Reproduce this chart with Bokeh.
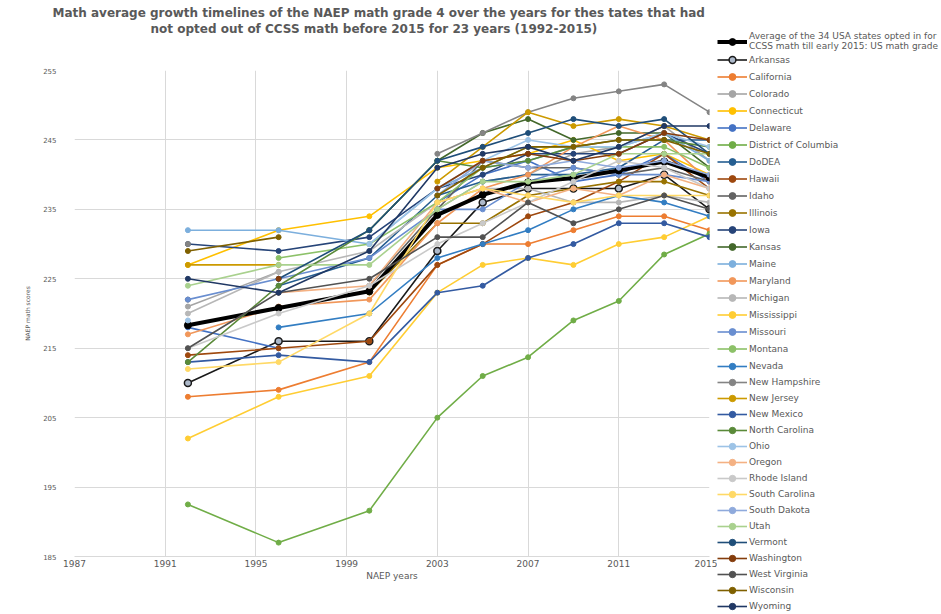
from bokeh.plotting import figure
from bokeh.layouts import row, column
from bokeh.models import Range1d, FixedTicker, Legend, LegendItem, Title
from bokeh.embed import file_html
from bokeh.resources import INLINE

nan = float("nan")

title_line1 = "Math average growth timelines of the NAEP math  grade 4 over the years for thes tates that had"
title_line2 = "not opted out of CCSS math before 2015 for 23 years (1992-2015)"
x_title = "NAEP years"
y_title = "NAEP math scores"

years = [1992, 1996, 2000, 2003, 2005, 2007, 2009, 2011, 2013, 2015]
x_ticks = [1987, 1991, 1995, 1999, 2003, 2007, 2011, 2015]
y_ticks = [185, 195, 205, 215, 225, 235, 245, 255]

average_label = "Average of the 34 USA states opted in for\nCCSS math till early 2015: US math grade"
average = [218.3, 220.8, 223.2, 234.2, 237.1, 238.9, 239.5, 240.6, 241.9, 239.6]

states = ["Arkansas", "California", "Colorado", "Connecticut", "Delaware",
          "District of Columbia", "DoDEA", "Hawaii", "Idaho", "Illinois", "Iowa",
          "Kansas", "Maine", "Maryland", "Michigan", "Mississippi", "Missouri",
          "Montana", "Nevada", "New Hampshire", "New Jersey", "New Mexico",
          "North Carolina", "Ohio", "Oregon", "Rhode Island", "South Carolina",
          "South Dakota", "Utah", "Vermont", "Washington", "West Virginia",
          "Wisconsin", "Wyoming"]

arkansas = [210, 216, 216, 229, 236, 238, 238, 238, 240, 235]
california = [208, 209, 213, 227, 230, 230, 232, 234, 234, 232]
colorado = [221, 226, nan, 235, 239, 240, 243, 244, 247, 242]
connecticut = [227, 232, 234, 241, 242, 243, 245, 242, 243, 240]
delaware = [218, 215, nan, 236, 240, 242, 239, 240, 243, 239]
district_of_columbia = [192.5, 187, 191.6, 205, 211, 213.7, 219, 221.8, 228.5, 231.5]
dodea = [nan, 224, 228, 237, 239, 240, 240, 241, 245, 245]
hawaii = [214, 215, 216, 227, 230, 234, 236, 239, 243, 238]
idaho = [222, nan, 224, 235, 242, 241, 241, 240, 241, 239]
illinois = [nan, nan, 223, 233, 233, 237, 238, 239, 239, 237]
iowa = [230, 229, 231, 238, 240, 243, 243, 243, 246, 243]
kansas = [nan, nan, 232, 242, 246, 248, 245, 246, 246, 241]
maine = [232, 232, 230, 238, 241, 242, 244, 244, 246, 242]
maryland = [217, 221, 222, 233, 238, 240, 244, 247, 245, 239]
michigan = [220, 226, 229, 236, 238, 238, 236, 236, 237, 236]
mississippi = [202, 208, 211, 223, 227, 228, 227, 230, 231, 234]
missouri = [222, 225, 228, 235, 235, 239, 241, 240, 240, 239]
montana = [nan, 228, 230, 236, 241, 244, 244, 244, 244, 241]
nevada = [nan, 218, 220, 228, 230, 232, 235, 237, 236, 234]
new_hampshire = [230, nan, nan, 243, 246, 249, 251, 252, 253, 249]
new_jersey = [227, 227, nan, 239, 244, 249, 247, 248, 247, 245]
new_mexico = [213, 214, 213, 223, 224, 228, 230, 233, 233, 231]
north_carolina = [213, 224, 232, 242, 241, 242, 244, 245, 245, 244]
ohio = [219, nan, 230, 238, 242, 245, 244, 244, 246, 244]
oregon = [nan, 223, 224, 236, 238, 236, 238, 237, 240, 238]
rhode_island = [215, 220, 224, 230, 233, 236, 239, 242, 241, 238]
south_carolina = [212, 213, 220, 236, 238, 237, 236, 237, 237, 237]
south_dakota = [nan, nan, nan, 237, 242, 241, 242, 241, 242, 240]
utah = [224, 227, 227, 235, 239, 239, 240, 243, 243, 243]
vermont = [nan, 225, 232, 242, 244, 246, 248, 247, 248, 243]
washington = [nan, 225, nan, 238, 242, 243, 242, 243, 246, 245]
west_virginia = [215, 223, 225, 231, 231, 236, 233, 235, 237, 235]
wisconsin = [229, 231, nan, 237, 241, 244, 244, 245, 245, 243]
wyoming = [225, 223, 229, 241, 243, 244, 242, 244, 247, 247]

state_values = [arkansas, california, colorado, connecticut, delaware,
                district_of_columbia, dodea, hawaii, idaho, illinois, iowa,
                kansas, maine, maryland, michigan, mississippi, missouri,
                montana, nevada, new_hampshire, new_jersey, new_mexico,
                north_carolina, ohio, oregon, rhode_island, south_carolina,
                south_dakota, utah, vermont, washington, west_virginia,
                wisconsin, wyoming]

state_colors = ["#1A1A1A", "#ED7D31", "#A5A5A5", "#FFC000", "#4472C4",
                "#70AD47", "#255E91", "#9E480E", "#636363", "#997300", "#264478",
                "#43682B", "#7CAFDD", "#F1975A", "#B7B7B7", "#FFCD33", "#698ED0",
                "#8CC168", "#327DC2", "#848484", "#CC9A00", "#335AA1",
                "#5A8A39", "#9DC3E6", "#F4B183", "#C9C9C9", "#FFD966",
                "#8FAADC", "#A9D18E", "#1F4E79", "#843C0C", "#525252",
                "#7F6000", "#203864"]

FONT = "DejaVu Sans"
GREY = "#595959"

# ---------------- main chart ----------------
p = figure(width=717, height=614, x_range=Range1d(1987, 2015), y_range=Range1d(185, 255),
           output_backend="svg", toolbar_location=None,
           min_border_left=74, min_border_right=8, min_border_top=70, min_border_bottom=58)
p.outline_line_color = None

# top panel: spacer nearest the plot, then title line 2, then the main title (line 1)
p.add_layout(Title(text=" ", standoff=0, text_font=FONT, text_font_size="28px",
                   text_color="white"), "above")
p.add_layout(Title(text=title_line2, align="left", offset=76, standoff=0,
                   text_font=FONT, text_font_size="12px", text_font_style="bold",
                   text_color=GREY), "above")
p.title.text = title_line1
p.title.align = "left"
p.title.offset = -22
p.title.standoff = 0
p.title.text_font = FONT
p.title.text_font_size = "12px"
p.title.text_font_style = "bold"
p.title.text_color = GREY

p.xaxis.ticker = FixedTicker(ticks=x_ticks)
p.yaxis.ticker = FixedTicker(ticks=y_ticks)
p.xaxis.axis_label = x_title
p.yaxis.axis_label = y_title
for ax in (p.xaxis, p.yaxis):
    ax.major_tick_line_color = None
    ax.minor_tick_line_color = None
    ax.major_tick_out = 0
    ax.major_tick_in = 0
    ax.minor_tick_out = 0
    ax.minor_tick_in = 0
    ax.major_label_text_color = GREY
    ax.major_label_text_font = FONT
    ax.axis_label_text_color = GREY
    ax.axis_label_text_font = FONT
    ax.axis_label_text_font_style = "normal"
p.xaxis.axis_line_color = "#D9D9D9"
p.yaxis.axis_line_color = None
p.xaxis.major_label_text_font_size = "9px"
p.xaxis.major_label_standoff = 3
p.xaxis.axis_label_text_font_size = "9px"
p.xaxis.axis_label_standoff = 1
p.yaxis.major_label_text_font_size = "7px"
p.yaxis.major_label_standoff = 18
p.yaxis.axis_label_text_font_size = "6px"
p.yaxis.axis_label_standoff = 9
p.grid.grid_line_color = "#D9D9D9"
p.grid.grid_line_width = 1

# ---------------- legend panel ----------------
pl = figure(width=224, height=614, x_range=Range1d(0, 1), y_range=Range1d(0, 1),
            x_axis_type=None, y_axis_type=None, output_backend="svg",
            toolbar_location=None, min_border_left=0, min_border_right=0,
            min_border_top=31, min_border_bottom=0)
pl.outline_line_color = None
pl.grid.visible = False

def style(name, col):
    if name == "avg":
        return dict(color="black", lw=4, size=7, fill="black", mlw=1)
    if name == "Arkansas":
        return dict(color=col, lw=1.6, size=7, fill="#ADB9CA", mlw=1.5)
    return dict(color=col, lw=1.6, size=5, fill=col, mlw=1)

def draw(fig, xs, ys, st):
    l = fig.line(xs, ys, line_color=st["color"], line_width=st["lw"])
    s = fig.scatter(xs, ys, size=st["size"], line_color=st["color"],
                    line_width=st["mlw"], fill_color=st["fill"])
    return [l, s]

legend_renderers = {}
for i, name in enumerate(states):
    st = style(name, state_colors[i])
    draw(p, years, state_values[i], st)
    legend_renderers[name] = draw(pl, years, state_values[i], st)
    if name == "Nevada":
        sa = style("avg", "black")
        draw(p, years, average, sa)
        legend_renderers["avg"] = draw(pl, years, average, sa)

split = states.index("Montana") + 1
items1 = [LegendItem(label=average_label, renderers=legend_renderers["avg"])]
items1 += [LegendItem(label=n, renderers=legend_renderers[n]) for n in states[:split]]
items2 = [LegendItem(label=n, renderers=legend_renderers[n]) for n in states[split:]]

common = dict(padding=0, margin=0, spacing=0, glyph_width=30, label_standoff=2,
              label_text_font=FONT, label_text_font_size="9px", label_text_color=GREY,
              label_text_line_height=0.85, border_line_alpha=0, background_fill_alpha=0)
leg1 = Legend(items=items1, location="top_left", glyph_height=17, label_height=17, **common)
leg2 = Legend(items=items2, location="bottom_left", glyph_height=16, label_height=16, **common)
pl.add_layout(leg1)
pl.add_layout(leg2)

layout = row(p, column(pl))
open("out.html", "w").write(file_html(layout, INLINE))
